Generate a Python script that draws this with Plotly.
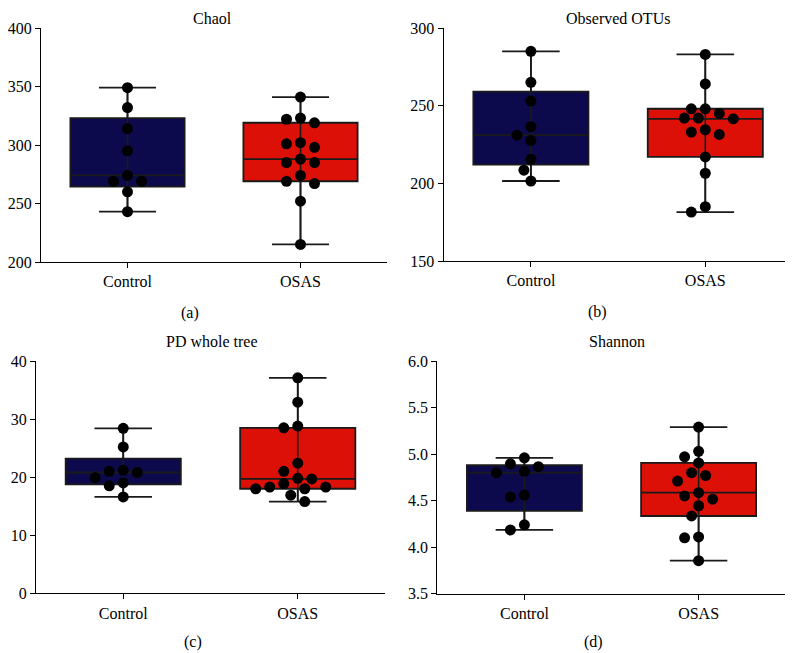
import plotly.graph_objects as go

# ---------------- data ----------------
groups = ["Control", "OSAS"]

chao_control = [349, 332, 314, 295, 274, 269, 269, 260, 243]
chao_osas = [341, 323, 322, 319, 302, 301, 298, 288, 285, 285, 274, 269, 267, 252, 215]

otus_control = [285, 265, 253, 236.5, 231, 227.5, 215.5, 208.5, 201.5]
otus_osas = [283, 264, 248, 248, 245, 242, 242, 241.5, 234.5, 233, 231.5, 217, 206.5, 185, 181.5]

pd_control = [28.4, 25.2, 21.2, 21.0, 20.8, 19.9, 19.0, 18.5, 16.6]
pd_osas = [37.1, 32.9, 28.8, 28.5, 22.4, 21.0, 19.8, 19.7, 18.9, 18.3, 18.3, 18.0, 18.0, 16.9, 15.8]

shannon_control = [4.96, 4.895, 4.865, 4.815, 4.80, 4.56, 4.54, 4.24, 4.185]
shannon_osas = [5.29, 5.03, 4.97, 4.905, 4.80, 4.77, 4.71, 4.585, 4.55, 4.515, 4.445, 4.335, 4.11, 4.10, 3.855]

titles = ["Chaol", "Observed OTUs", "PD whole tree", "Shannon"]
panel_labels = ["(a)", "(b)", "(c)", "(d)"]
y_ranges = [[200, 400], [150, 300], [0, 40], [3.5, 6.0]]
y_ticks = [[200, 250, 300, 350, 400], [150, 200, 250, 300], [0, 10, 20, 30, 40],
           [3.5, 4.0, 4.5, 5.0, 5.5, 6.0]]
y_ticktext = [None, None, None, ["3.5", "4.0", "4.5", "5.0", "5.5", "6.0"]]
series = [(chao_control, chao_osas), (otus_control, otus_osas),
          (pd_control, pd_osas), (shannon_control, shannon_osas)]

# ---------------- layout geometry ----------------
# the page body has an 8px default margin, so the figure is offset by (8, 8)
OFF = 8
WIN_W, WIN_H = 793, 653
W, H = WIN_W - OFF, WIN_H - OFF
# pixel boxes in window coords: (left, right, top, bottom)
px_boxes = [(41, 387, 28, 262), (443.7, 792.5, 28, 261),
            (36, 385, 361, 593.3), (437.3, 785.7, 361, 593.7)]
colors = ["#0c0a4c", "#dd1008"]
font_family = "Liberation Serif"
FS = 16

MARKER = 11


def fx(px):
    return (px - OFF) / W


def fy(py):
    return 1 - (py - OFF) / H


def swarm_offsets(vals, ppu_y, ppu_x, diam=MARKER, step=7):
    placed = []
    res = [0.0] * len(vals)
    order = sorted(range(len(vals)), key=lambda i: -vals[i])
    cands = [0] + [s * step * j for j in range(1, 12) for s in (-1, 1)]
    for i in order:
        y = vals[i] * ppu_y
        chosen = cands[-1]
        for c in cands:
            if all((c - px) ** 2 + (y - py) ** 2 >= (diam * 1.05) ** 2 for px, py in placed):
                chosen = c
                break
        placed.append((chosen, y))
        res[i] = chosen / ppu_x
    return res


fig = go.Figure()
layout_axes = {}
annotations = []

for p in range(4):
    l, r, t, b = px_boxes[p]
    xname = "x" if p == 0 else f"x{p+1}"
    yname = "y" if p == 0 else f"y{p+1}"
    xkey = "xaxis" if p == 0 else f"xaxis{p+1}"
    ykey = "yaxis" if p == 0 else f"yaxis{p+1}"
    ppu_y = (b - t) / (y_ranges[p][1] - y_ranges[p][0])
    ppu_x = (r - l) / 2.0

    for gi, vals in enumerate(series[p]):
        fig.add_trace(go.Box(
            y=vals, x=[gi] * len(vals), xaxis=xname, yaxis=yname,
            boxpoints=False, quartilemethod="exclusive",
            fillcolor=colors[gi], line=dict(color="#1a1a1a", width=1.8),
            width=0.66, whiskerwidth=0.5, showlegend=False, hoverinfo="skip"))
    for gi, vals in enumerate(series[p]):
        fig.add_trace(go.Scatter(
            x=[gi, gi], y=[min(vals), max(vals)], xaxis=xname, yaxis=yname,
            mode="lines", line=dict(color="#1a1a1a", width=1.6),
            showlegend=False, hoverinfo="skip"))
    for gi, vals in enumerate(series[p]):
        offs = swarm_offsets(vals, ppu_y, ppu_x)
        fig.add_trace(go.Scatter(
            x=[gi + o for o in offs], y=vals, xaxis=xname, yaxis=yname,
            mode="markers", marker=dict(color="black", size=MARKER),
            showlegend=False, cliponaxis=False))

    layout_axes[xkey] = dict(
        domain=[fx(l), min(fx(r), 1.0)], anchor=yname, range=[-0.5, 1.5], automargin=False,
        tickvals=[0, 1], ticktext=groups, showline=True, linecolor="black",
        linewidth=1.3, ticks="outside", ticklen=5, tickcolor="black", tickwidth=1.2,
        showgrid=False, zeroline=False, fixedrange=True,
        tickfont=dict(family=font_family, size=FS, color="black"))
    layout_axes[ykey] = dict(
        domain=[fy(b), fy(t)], anchor=xname, range=y_ranges[p], automargin=False,
        tickvals=y_ticks[p],
        ticktext=y_ticktext[p] if y_ticktext[p] else [str(v) for v in y_ticks[p]],
        showline=True, linecolor="black", linewidth=1.3, ticks="outside", ticklen=5,
        tickcolor="black", tickwidth=1.2, showgrid=False, zeroline=False, fixedrange=True,
        tickfont=dict(family=font_family, size=FS, color="black"))

title_pos = [(212, 8, "top"), (618, 8, "top"), (212, 341, "middle"), (617, 341, "middle")]
label_pos = [(190, 313), (597, 312), (193, 642), (593, 642)]
for p in range(4):
    tx, ty, ya = title_pos[p]
    annotations.append(dict(text=titles[p], x=fx(tx), y=fy(ty), xref="paper", yref="paper",
                            xanchor="center", yanchor=ya, showarrow=False,
                            font=dict(family=font_family, size=FS, color="black")))
    lx, ly = label_pos[p]
    annotations.append(dict(text=panel_labels[p], x=fx(lx), y=fy(ly), xref="paper", yref="paper",
                            xanchor="center", yanchor="middle", showarrow=False,
                            font=dict(family=font_family, size=FS, color="black")))

fig.update_layout(width=W, height=H, margin=dict(l=0, r=0, t=0, b=0, autoexpand=False),
                  paper_bgcolor="white", plot_bgcolor="white",
                  annotations=annotations, **layout_axes)

fig.write_html("out.html")
